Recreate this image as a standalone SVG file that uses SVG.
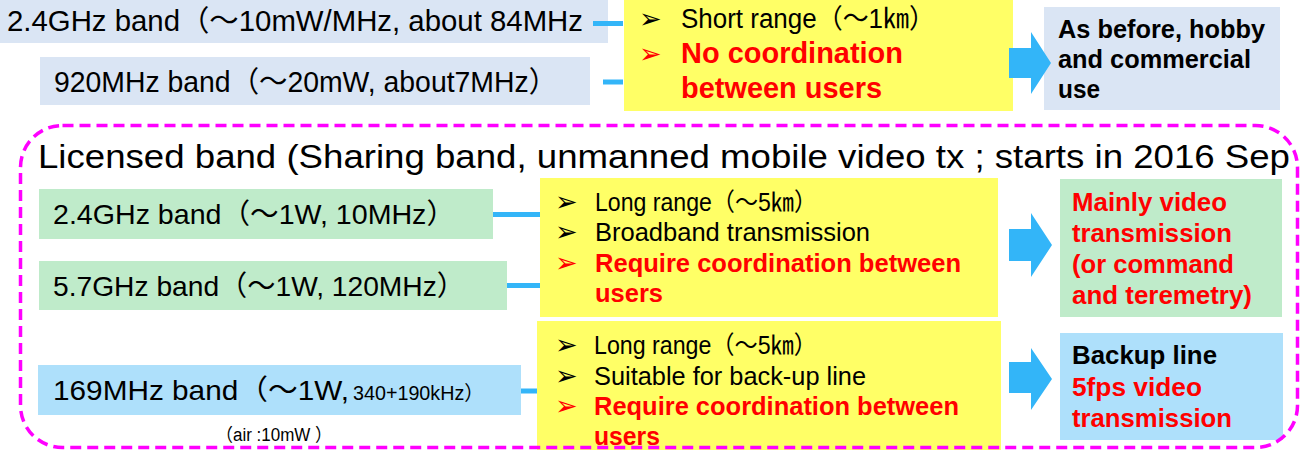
<svg xmlns="http://www.w3.org/2000/svg" width="1306" height="450" viewBox="0 0 1306 450">
<style>
text{font-family:"Liberation Sans","Noto Sans CJK JP",Arial,sans-serif;fill:#000}
.b{font-weight:bold}
.r{fill:#ff0000}
.blt{font-family:"DejaVu Sans","Noto Sans CJK JP",sans-serif;font-size:27px}
.ln{stroke:#33b5f8;stroke-width:5;fill:none}
.ar{fill:#33b5f8}
.pb{fill:#dae5f4}
.ye{fill:#ffff66}
.gr{fill:#bfebca}
.cy{fill:#aee0fb}
</style>
<rect width="1306" height="450" fill="#fff"/>
<g id="band24-unlic">
<rect class="pb" x="0" y="0" width="608" height="43"/>
<text x="7" y="31" font-size="29" textLength="576" lengthAdjust="spacingAndGlyphs">2.4GHz band（～10mW/MHz, about 84MHz</text>
</g>
<g id="band920">
<rect class="pb" x="40" y="57" width="550" height="48"/>
<text x="54" y="92" font-size="29" textLength="503" lengthAdjust="spacingAndGlyphs">920MHz band（～20mW, about7MHz）</text>
</g>
<g id="feat-unlic">
<rect class="ye" x="624" y="0" width="389" height="111"/>
<text class="blt" x="639" y="28">➢</text>
<text x="681" y="28" font-size="27" textLength="254" lengthAdjust="spacingAndGlyphs">Short range（～1㎞）</text>
<text class="blt r" x="639" y="63">➢</text>
<text class="b r" x="681" y="63" font-size="29" textLength="222" lengthAdjust="spacingAndGlyphs">No coordination</text>
<text class="b r" x="681" y="98" font-size="29" textLength="201" lengthAdjust="spacingAndGlyphs">between users</text>
</g>
<g id="use-unlic">
<rect class="pb" x="1044" y="7" width="236" height="103"/>
<text class="b" x="1058" y="38" font-size="26" textLength="207" lengthAdjust="spacingAndGlyphs">As before, hobby</text>
<text class="b" x="1058" y="68" font-size="26" textLength="193" lengthAdjust="spacingAndGlyphs">and commercial</text>
<text class="b" x="1058" y="98" font-size="26" textLength="42" lengthAdjust="spacingAndGlyphs">use</text>
</g>
<g id="band24-lic">
<rect class="gr" x="39" y="189" width="454" height="50"/>
<text x="53" y="224" font-size="28" textLength="402" lengthAdjust="spacingAndGlyphs">2.4GHz band（～1W, 10MHz）</text>
</g>
<g id="band57">
<rect class="gr" x="39" y="261" width="468" height="49"/>
<text x="53" y="296" font-size="28" textLength="412" lengthAdjust="spacingAndGlyphs">5.7GHz band（～1W, 120MHz）</text>
</g>
<g id="feat-lic">
<rect class="ye" x="540" y="178" width="458" height="139"/>
<text class="blt" x="555" y="211">➢</text>
<text x="595" y="211" font-size="25" textLength="222" lengthAdjust="spacingAndGlyphs">Long range（～5㎞）</text>
<text class="blt" x="555" y="241">➢</text>
<text x="595" y="241" font-size="25" textLength="275" lengthAdjust="spacingAndGlyphs">Broadband transmission</text>
<text class="blt r" x="555" y="272">➢</text>
<text class="b r" x="595" y="272" font-size="26" textLength="366" lengthAdjust="spacingAndGlyphs">Require coordination between</text>
<text class="b r" x="595" y="302" font-size="26" textLength="68" lengthAdjust="spacingAndGlyphs">users</text>
</g>
<g id="use-lic">
<rect class="gr" x="1060" y="179" width="222" height="138"/>
<text class="b r" x="1072" y="211" font-size="26" textLength="155" lengthAdjust="spacingAndGlyphs">Mainly video</text>
<text class="b r" x="1072" y="242" font-size="26" textLength="160" lengthAdjust="spacingAndGlyphs">transmission</text>
<text class="b r" x="1072" y="273" font-size="26" textLength="162" lengthAdjust="spacingAndGlyphs">(or command</text>
<text class="b r" x="1072" y="304" font-size="26" textLength="180" lengthAdjust="spacingAndGlyphs">and teremetry)</text>
</g>
<g id="band169">
<rect class="cy" x="38" y="365" width="483" height="50"/>
<text x="53" y="400" font-size="28" textLength="296" lengthAdjust="spacingAndGlyphs">169MHz band（～1W,</text>
<text x="353" y="400" font-size="20" textLength="131" lengthAdjust="spacingAndGlyphs">340+190kHz）</text>
<text x="216" y="441" font-size="18" textLength="116" lengthAdjust="spacingAndGlyphs">（air :10mW ）</text>
</g>
<g id="feat-169">
<rect class="ye" x="537" y="321" width="464" height="129"/>
<text class="blt" x="555" y="354">➢</text>
<text x="594" y="354" font-size="25" textLength="223" lengthAdjust="spacingAndGlyphs">Long range（～5㎞）</text>
<text class="blt" x="555" y="385">➢</text>
<text x="594" y="385" font-size="25" textLength="272" lengthAdjust="spacingAndGlyphs">Suitable for back-up line</text>
<text class="blt r" x="555" y="415">➢</text>
<text class="b r" x="594" y="415" font-size="26" textLength="365" lengthAdjust="spacingAndGlyphs">Require coordination between</text>
<text class="b r" x="594" y="445" font-size="26" textLength="66" lengthAdjust="spacingAndGlyphs">users</text>
</g>
<g id="use-169">
<rect class="cy" x="1060" y="333" width="223" height="107"/>
<text class="b" x="1072" y="364" font-size="26" textLength="145" lengthAdjust="spacingAndGlyphs">Backup line</text>
<text class="b r" x="1072" y="396" font-size="26" textLength="130" lengthAdjust="spacingAndGlyphs">5fps video</text>
<text class="b r" x="1072" y="427" font-size="26" textLength="160" lengthAdjust="spacingAndGlyphs">transmission</text>
</g>
<g id="connectors">
<line class="ln" x1="593" y1="23.5" x2="623" y2="23.5"/>
<line class="ln" x1="603" y1="82" x2="623" y2="82"/>
<line class="ln" x1="493" y1="214.5" x2="540" y2="214.5"/>
<line class="ln" x1="507" y1="285.5" x2="540" y2="285.5"/>
<line class="ln" x1="521" y1="391" x2="537" y2="391"/>
<polygon class="ar" points="1009,48 1031,48 1031,32 1051,63 1031,94 1031,78 1009,78"/>
<polygon class="ar" points="1009,229 1031,229 1031,213 1052,245 1031,277 1031,261 1009,261"/>
<polygon class="ar" points="1009,362 1031,362 1031,348 1052,379 1031,410 1031,393 1009,393"/>
</g>
<g id="licensed-group">
<rect x="20.5" y="125.5" width="1277" height="322" rx="42" ry="42" fill="none" stroke="#ff00ff" stroke-width="3.5" stroke-dasharray="11 6"/>
<text x="38" y="168" font-size="34" textLength="1252" lengthAdjust="spacingAndGlyphs">Licensed band (Sharing band, unmanned mobile video tx ; starts in 2016 Sep</text>
</g>
</svg>
